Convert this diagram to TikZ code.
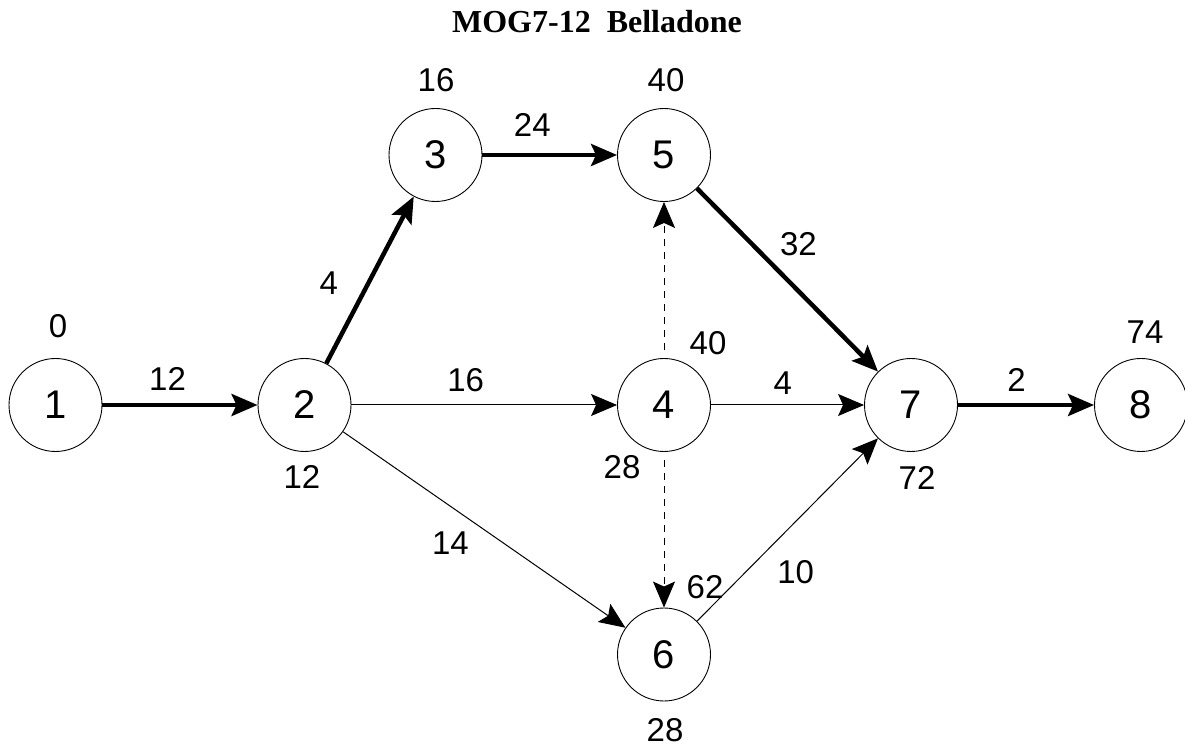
\documentclass[tikz,border=0pt]{standalone}
\usepackage{fontspec}
\setmainfont{Liberation Sans}
\newfontfamily\titlefont{Liberation Serif}
\usetikzlibrary{arrows.meta,automata,positioning}

\begin{document}
\begin{tikzpicture}[>={Stealth[length=26pt,width=22pt,inset=5pt]}, x=1pt, y=1pt,
                    node distance=249pt]
  \tikzstyle{every state}=[minimum size=93pt, inner sep=0pt, line width=0.9pt,
                           font=\fontsize{40}{44}\selectfont]
  \tikzstyle{crit}=[->, line width=4.5pt]
  \tikzstyle{norm}=[->, line width=1pt]
  \tikzstyle{dummy}=[->, line width=1pt, dash pattern=on 7pt off 6pt, shorten <=8pt]
  \tikzstyle{time}=[font=\fontsize{33}{36}\selectfont]
  \tikzstyle{elabel}=[inner sep=0pt, font=\fontsize{33}{36}\selectfont]

  \useasboundingbox (0,0) rectangle (1185,747);

  \node[font=\titlefont\bfseries\fontsize{32}{38}\selectfont] (title) at (597,725) {MOG7-12\ \ Belladone};

  \node[state] (n1) at (55.5,342)                  {1};
  \node[state] (n2) [right of=n1]                  {2};
  \node[state] (n4) [right of=n2, node distance=359.5pt] {4};
  \node[state] (n7) [right of=n4, node distance=247pt]   {7};
  \node[state] (n8) [right of=n7, node distance=230pt]   {8};
  \node[state] (n5) [above of=n4, node distance=250pt]   {5};
  \node[state] (n3) [left of=n5, node distance=228.5pt]  {3};
  \node[state] (n6) [below of=n4, node distance=249.5pt] {6};

  % event times
  \node[time] (t1)  at (58,421)   {0};
  \node[time] (t2)  at (302,270)  {12};
  \node[time] (t3)  at (436,667)  {16};
  \node[time] (t5)  at (666,667)  {40};
  \node[time] (t4a) at (708,404)  {40};
  \node[time] (t4b) at (622,280)  {28};
  \node[time] (t6a) at (705,160)  {62};
  \node[time] (t6b) at (665,17)   {28};
  \node[time] (t7)  at (917,269)  {72};
  \node[time] (t8)  at (1145,415) {74};

  \path (n1) edge [crit] node[elabel, above=12pt, pos=0.42] {12} (n2)
        (n2) edge [crit] node[elabel, left=28pt, pos=0.48]  {4}  (n3)
             edge [norm] node[elabel, above=13pt, pos=0.43] {16} (n4)
             edge [norm] node[elabel, below=25pt, pos=0.38] {14} (n6)
        (n3) edge [crit] node[elabel, above=16pt, pos=0.37] {24} (n5)
        (n5) edge [crit] node[elabel, above=33pt, pos=0.56] {32} (n7)
        (n4) edge [dummy] (n5)
             edge [dummy] (n6)
             edge [norm] node[elabel, above=10pt, pos=0.47] {4}  (n7)
        (n6) edge [norm] node[elabel, right=31pt, pos=0.27] {10} (n7)
        (n7) edge [crit] node[elabel, above=11pt, pos=0.43] {2}  (n8);

\end{tikzpicture}
\end{document}
